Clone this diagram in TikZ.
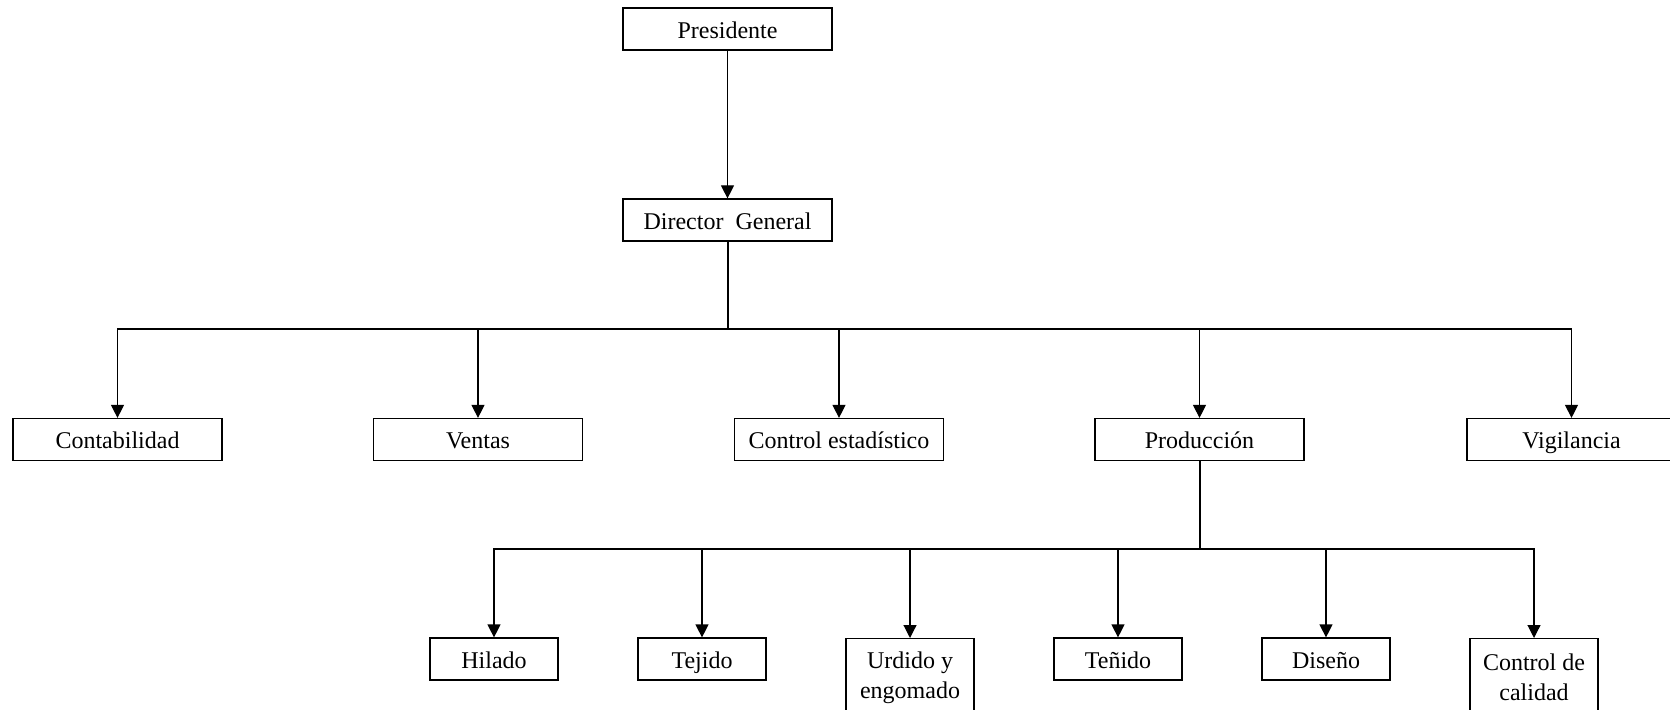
\documentclass[tikz,border=0pt]{standalone}
\usepackage{fontspec}
\setmainfont{Liberation Serif}
\usetikzlibrary{arrows.meta}

\begin{document}
\begin{tikzpicture}[
    x=0.5pt, y=-0.5pt,
    every node/.style={font=\fontsize{12}{15}\selectfont},
    unit/.style={draw,line width=0.6pt,minimum width=104.5pt,minimum height=21pt,inner sep=0pt,
      text height=10pt,text depth=0.8pt},
    dept/.style={unit,minimum width=64pt},
    tall/.style={draw,line width=0.6pt,minimum width=64pt,anchor=north,minimum height=39pt,align=center,inner sep=0pt},
    link/.style={line width=0.6pt,-{Triangle[length=6.5pt,width=6.5pt]}},
    trunk/.style={line width=1pt}
  ]
  \useasboundingbox (0,0) rectangle (1670,710);

  \node[unit] (pres) at (727.5,29) {Presidente};
  \node[unit] (dir)  at (727.5,220) {Director\ \ General};

  % second level
  \node[unit] (cont) at (117.5,439.5) {Contabilidad};
  \node[unit] (vent) at (478,439.5) {Ventas};
  \node[unit] (cest) at (839,439.5) {Control estadístico};
  \node[unit] (prod) at (1199.5,439.5) {Producción};
  \node[unit] (vig)  at (1571.5,439.5) {Vigilancia};

  % third level
  \node[dept] (hil) at (494,659) {Hilado};
  \node[dept] (tej) at (702,659) {Tejido};
  \node[tall] (urd) at (910,638) {Urdido y\\engomado};
  \node[dept] (ten) at (1118,659) {Teñido};
  \node[dept] (dis) at (1326,659) {Diseño};
  \node[tall] (cal) at (1534,638) {Control de\\calidad};

  \coordinate (bus1) at (727.5,329);
  \coordinate (bus2) at (1199.5,549);

  \draw[link] (pres) -- (dir);

  \draw[trunk] (dir) -- (bus1);
  \draw[line width=0.6pt] (bus1 -| cont) -- (bus1 -| vig);
  \foreach \n in {cont,vent,cest,prod,vig}
    \draw[link] (bus1) -| (\n);

  \draw[trunk] (prod) -- (bus2);
  \draw[line width=0.6pt] (bus2 -| hil) -- (bus2 -| cal);
  \foreach \n in {hil,tej,urd,ten,dis,cal}
    \draw[link] (bus2) -| (\n);
\end{tikzpicture}
\end{document}
